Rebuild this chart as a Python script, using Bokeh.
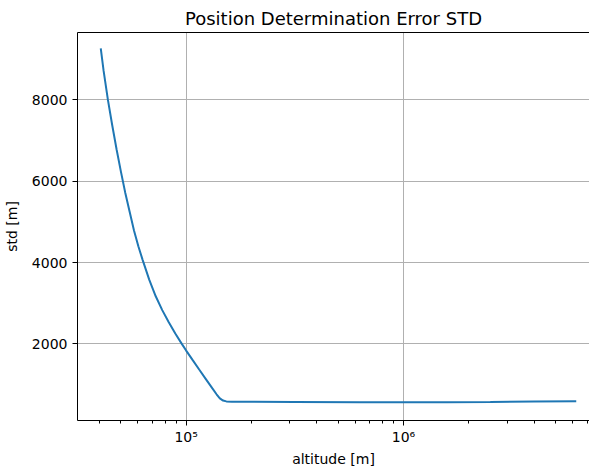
from bokeh.plotting import figure
from bokeh.models import FixedTicker, Range1d, LogAxis
from bokeh.embed import file_html
from bokeh.resources import INLINE

# Data
altitude_m = [40460, 41690, 43650, 45710, 47860, 50120, 52480, 54950, 57540,
              60260, 63100, 67610, 72440, 77620, 83180, 89130, 95500, 100000,
              107200, 114800, 123000, 131800, 138000, 142900, 147900, 153100,
              162200, 199500, 316200, 631000, 1000000, 1585000, 2512000,
              3981000, 6240000]
std_m = [9265, 8720, 8000, 7370, 6780, 6230, 5710, 5250, 4790,
         4400, 4060, 3580, 3170, 2830, 2530, 2255, 2000, 1835,
         1600, 1370, 1140, 910, 760, 660, 605, 585,
         578, 577, 572, 566, 565, 566, 572,
         582, 590]

y_ticks = [2000, 4000, 6000, 8000]
x_major_ticks = [100000, 1000000]
x_minor_ticks = [40000, 50000, 60000, 70000, 80000, 90000,
                 200000, 300000, 400000, 500000, 600000, 700000, 800000, 900000,
                 2000000, 3000000, 4000000, 5000000, 6000000, 7000000]
x_tick_labels = {100000: "10\u2075", 1000000: "10\u2076"}

FONT = "DejaVu Sans"

p = figure(frame_width=512, frame_height=388, x_axis_type="log",
           output_backend="svg", toolbar_location=None,
           title="Position Determination Error STD",
           x_range=Range1d(10 ** 4.5, 10 ** (4.5 + 512 / 217.3)),
           y_range=Range1d(115, 9658),
           min_border_left=76, min_border_right=0,
           min_border_top=32, min_border_bottom=46)

p.title.align = "center"
p.title.text_font = FONT
p.title.text_font_size = "18px"
p.title.text_font_style = "normal"
p.title.text_color = "black"
p.title.standoff = 8
p.title.offset = 4

p.line(altitude_m, std_m, line_color="#1f77b4", line_width=2)

xa = p.xaxis[0]
xa.ticker = FixedTicker(ticks=x_major_ticks, minor_ticks=x_minor_ticks)
xa.major_label_overrides = x_tick_labels
xa.axis_label = "altitude [m]"

ya = p.yaxis[0]
ya.ticker = FixedTicker(ticks=y_ticks)
ya.axis_label = "std [m]"

for ax in (xa, ya):
    ax.axis_label_text_font = FONT
    ax.axis_label_text_font_size = "14px"
    ax.axis_label_text_font_style = "normal"
    ax.axis_label_text_color = "black"
    ax.major_label_text_font = FONT
    ax.major_label_text_font_size = "14px"
    ax.major_label_text_color = "black"
    ax.axis_line_color = "black"
    ax.major_tick_line_color = "black"
    ax.minor_tick_line_color = "black"
    ax.major_tick_in = 0
    ax.major_tick_out = 5
    ax.minor_tick_in = 0
    ax.minor_tick_out = 3

xa.major_label_standoff = 3
xa.axis_label_standoff = 3
ya.major_label_standoff = 5
ya.axis_label_standoff = 9

# top spine only (the right spine lies outside the visible area in the reference)
top = LogAxis(ticker=FixedTicker(ticks=[]), major_tick_line_color=None,
              minor_tick_line_color=None, major_label_text_font_size="0px",
              axis_line_color="black", major_label_standoff=0)
p.add_layout(top, "above")

p.xgrid.grid_line_color = "#b0b0b0"
p.ygrid.grid_line_color = "#b0b0b0"
p.xgrid.grid_line_width = 1
p.ygrid.grid_line_width = 1
p.outline_line_color = None
p.background_fill_color = "white"
p.border_fill_color = "white"

open("out.html", "w").write(file_html(p, INLINE))
